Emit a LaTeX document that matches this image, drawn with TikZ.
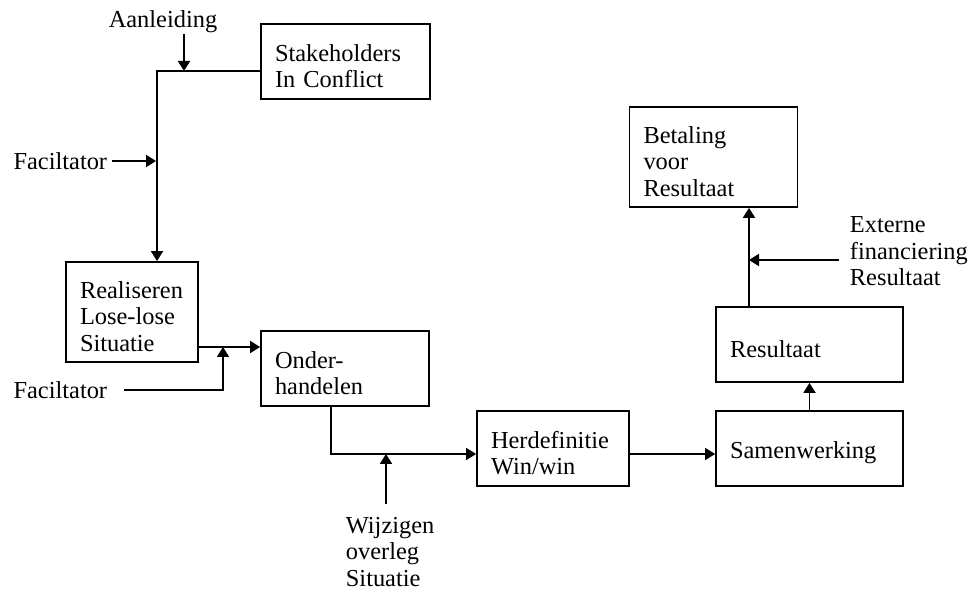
\documentclass[tikz,border=0pt]{standalone}
\usepackage{fontspec}
\setmainfont{Liberation Serif}
\usetikzlibrary{arrows.meta, positioning, calc}

\begin{document}
\begin{tikzpicture}[x=0.5pt, y=-0.5pt, line width=0.9pt,
    >={Triangle[length=5pt,width=6pt]},
    font=\fontsize{12.2pt}{13.25pt}\selectfont,
    box/.style={draw, align=left, inner xsep=7pt, inner ysep=0pt,
      execute at begin node={\rule{0pt}{13pt}}},
    lbl/.style={inner sep=0pt, align=left}]

  \useasboundingbox (0,0) rectangle (974,592);

  % boxes
  \node[box, text width=70.5pt, minimum height=37.5pt] (S) at (345.5,61.5) {Stakeholders\\In Conflict};
  \node[box, text width=52pt, minimum height=50pt] (R) at (132,312) {Realiseren\\Lose-lose\\Situatie};
  \node[box, text width=70pt, minimum height=37.5pt] (O) at (345,368.5) {Onder-\\handelen};
  \node[box, text width=62pt, minimum height=37.5pt] (H) at (553,448.5) {Herdefinitie\\Win/win};
  \node[box, text width=79.5pt, minimum height=37.5pt] (W) at (809.5,448.5) {Samenwerking};
  \node[box, text width=79.5pt, minimum height=37.5pt] (Res) at (809.5,344.5) {Resultaat};
  \node[box, text width=70pt, minimum height=50pt] (B) at (713.5,157) {Betaling\\voor\\Resultaat};

  % side inputs
  \node[lbl, anchor=base] (Aan) at (163,28) {Aanleiding};
  \node[lbl, anchor=east, inner xsep=2pt] (F1) at (112,161) {Faciltator};
  \node[lbl, anchor=east, inner xsep=8pt] (F2) at (124,390) {Faciltator};
  \node[lbl, anchor=north west, inner ysep=6pt] (Wij) at (345,504) {Wijzigen\\overleg\\Situatie};
  \node[lbl, anchor=north west, inner xsep=5pt] (Ext) at (839,216) {Externe\\financiering\\Resultaat};

  \coordinate (j1) at (157,71);
  \coordinate (a1) at (184,71);
  \coordinate (f1) at (156,161);
  \coordinate (f2) at (223,347);
  \coordinate (j3) at (331,454);
  \coordinate (w1) at (386,454);
  \coordinate (e1) at (749,260);

  \draw[->] (S.west |- j1) -- (j1) -- (j1 |- R.north);
  \draw[->] (Aan.south -| a1) -- (a1);
  \draw[->] (F1.east) -- (f1);
  \draw[->] (R.east |- f2) -- (O.west |- f2);
  \draw[->] (F2.east) -| (f2);
  \draw[->] (O.south -| j3) -- (j3) -- (H.west |- j3);
  \draw[->] (Wij.north -| w1) -- (w1);
  \draw[->] (H.east |- j3) -- (W.west |- j3);
  \draw[->] (W.north) -- (Res.south);
  \draw[->] (Res.north -| e1) -- (B.south -| e1);
  \draw[->] (Ext.west |- e1) -- (e1);
\end{tikzpicture}
\end{document}
